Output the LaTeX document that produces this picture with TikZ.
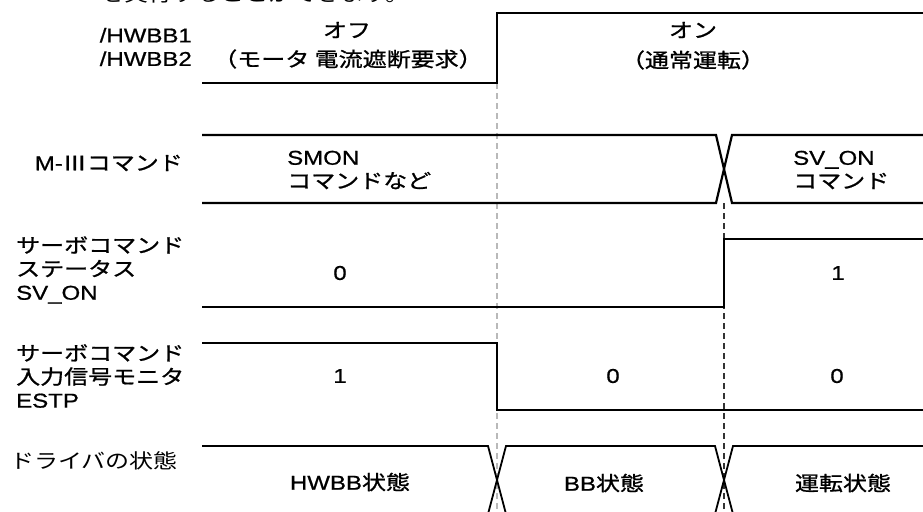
\documentclass[tikz,border=0pt]{standalone}
\usepackage{fontspec}
\setmainfont{Liberation Sans}[FakeStretch=1.2,FakeBold=0.8]
\newfontfamily\jp{Noto Sans CJK JP}[FakeStretch=1.2,FakeBold=1.0]
\newfontfamily\jpl{Noto Sans CJK JP}[FakeStretch=1.2]
\begin{document}
\begin{tikzpicture}[x=1pt,y=-1pt,
  sig/.style={line width=2.6pt, line join=miter},
  bus/.style={line width=2.2pt},
  stline/.style={line width=1.8pt},
  guidea/.style={gray!55, dash pattern=on 6pt off 4pt, line width=1.3pt},
  guideb/.style={black!80, dash pattern=on 6pt off 4pt, line width=1.2pt},
  lbl/.style={inner sep=0pt, font=\fontsize{20}{23.5}\selectfont},
  lft/.style={lbl, anchor=west, align=left},
  rgt/.style={lbl, anchor=east, align=right},
  ctr/.style={lbl, anchor=center, align=center}]
\useasboundingbox (0,0) rectangle (923,511);
\clip (0,0) rectangle (923,511);
\fill[white] (0,0) rectangle (923,511);
% cut-off sentence at top
\node[lft] (top) at (100,-6) {\jpl を実行することができます。};
% guide lines
\draw[guidea] (497,83) -- (497,520);
\draw[guideb] (724,203) -- (724,520);
% row 1
\draw[sig] (202,83) -- (497,83) -- (497,13) -- (930,13);
\node[rgt] (hw) at (192,47) {/HWBB1\\/HWBB2};
\node[ctr] (off1) at (347,30) {\jp オフ};
\node[ctr] (off2) at (348,59) {\jp （モータ 電流遮断要求）};
\node[ctr] (on1) at (693,30) {\jp オン};
\node[ctr] (on2) at (693,60) {\jp （通常運転）};
% row 2
\draw[bus] (202,135) -- (716,135) -- (732,203) -- (930,203);
\draw[bus] (202,203) -- (716,203) -- (732,135) -- (930,135);
\node[rgt] (m3) at (183,163) {M-{\jp Ⅲコマンド}};
\node[lft] (smon) at (287,170) {SMON\\{\jp コマンドなど}};
\node[lft] (svon) at (793,170) {SV\_ON\\{\jp コマンド}};
% row 3
\draw[sig] (202,307) -- (724,307) -- (724,239) -- (930,239);
\node[lft] (st) at (16,270) {{\jp サーボコマンド}\\{\jp ステータス}\\SV\_ON};
\node[ctr] (z3) at (340,273) {0};
\node[ctr] (o3) at (838,273) {1};
% row 4
\draw[sig] (202,343) -- (497,343) -- (497,410) -- (930,410);
\node[lft] (es) at (16,376) {{\jp サーボコマンド}\\{\jp 入力信号モニタ}\\ESTP};
\node[ctr] (o4) at (340,376) {1};
\node[ctr] (z4a) at (613,376) {0};
\node[ctr] (z4b) at (837,376) {0};
% row 5
\draw[stline] (202,446) -- (488,446) -- (506,514) -- (715,514) -- (733,446) -- (930,446);
\draw[stline] (202,514) -- (488,514) -- (506,446) -- (715,446) -- (733,514) -- (930,514);
\node[lft] (drv) at (10,461) {\jpl ドライバの状態};
\node[ctr] (s1) at (350,482) {HWBB{\jp 状態}};
\node[ctr] (s2) at (604,483) {BB{\jp 状態}};
\node[ctr] (s3) at (843,483) {\jp 運転状態};
\end{tikzpicture}
\end{document}
